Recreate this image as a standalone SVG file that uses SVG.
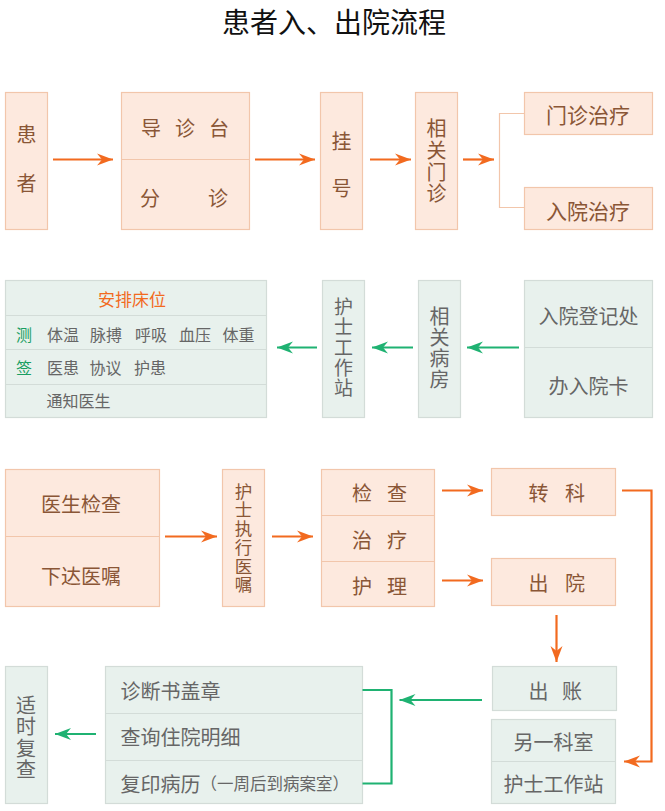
<svg xmlns="http://www.w3.org/2000/svg" width="665" height="811" viewBox="0 0 665 811">
<defs>
<style>
text{font-family:"Noto Sans CJK SC","Noto Sans",sans-serif;dominant-baseline:central;}
.p{fill:#fde9de;stroke:#f2c6ab;stroke-width:1.2;}
.pl{stroke:#f2c6ab;stroke-width:1.2;fill:none;}
.g{fill:#e8f1ed;stroke:#d3dcd8;stroke-width:1.2;}
.gl{stroke:#d3dcd8;stroke-width:1.2;fill:none;}
.tb{fill:#8a5636;font-size:20px;text-anchor:middle;}
.tg{fill:#666666;font-size:20px;text-anchor:middle;}
.v{writing-mode:vertical-rl;text-anchor:middle;}
.ao{stroke:#f26a1f;stroke-width:2.2;fill:none;}
.ag{stroke:#1fb272;stroke-width:2.2;fill:none;}
</style>
<marker id="mo" markerUnits="userSpaceOnUse" markerWidth="18" markerHeight="14" refX="16" refY="7" orient="auto"><path d="M0,1 L16,7 L0,13 L5,7 Z" fill="#f26a1f"/></marker>
<marker id="mg" markerUnits="userSpaceOnUse" markerWidth="18" markerHeight="14" refX="16" refY="7" orient="auto"><path d="M0,1 L16,7 L0,13 L5,7 Z" fill="#1fb272"/></marker>
</defs>
<rect width="665" height="811" fill="#ffffff"/>
<text x="334" y="21" style="font-size:28px;fill:#111;text-anchor:middle;">患者入、出院流程</text>

<g id="patient"><rect class="p" x="5.5" y="92.5" width="42" height="137"/><text class="tb"><tspan x="26.5" y="133">患</tspan><tspan x="26.5" y="182">者</tspan></text></g>
<g id="triage"><rect class="p" x="121.5" y="92.5" width="128" height="137"/><line class="pl" x1="121.5" y1="159.5" x2="249.5" y2="159.5"/><text class="tb"><tspan x="151" y="127">导</tspan><tspan x="185" y="127">诊</tspan><tspan x="219" y="127">台</tspan><tspan x="150" y="197">分</tspan><tspan x="218" y="197">诊</tspan></text></g>
<g id="register"><rect class="p" x="320.5" y="92.5" width="42" height="137"/><text class="tb"><tspan x="341.5" y="140">挂</tspan><tspan x="341.5" y="187">号</tspan></text></g>
<g id="clinic"><rect class="p" x="415.5" y="92.5" width="42" height="137"/><text class="tb v" x="436.5" y="162" style="font-size:20px;letter-spacing:1.7px">相关门诊</text></g>
<g id="outpatient"><rect class="p" x="524.5" y="92.5" width="128" height="42"/><text class="tb" x="588" y="114" style="font-size:21px">门诊治疗</text></g>
<g id="inpatient"><rect class="p" x="524.5" y="187.5" width="128" height="42"/><text class="tb" x="588" y="210" style="font-size:21px">入院治疗</text></g>

<g id="bed"><rect class="g" x="5.5" y="280.5" width="261" height="137"/><line class="gl" x1="5.5" y1="315.5" x2="266.5" y2="315.5"/><line class="gl" x1="5.5" y1="349.5" x2="266.5" y2="349.5"/><line class="gl" x1="5.5" y1="384.5" x2="266.5" y2="384.5"/>
<text x="132" y="298" style="font-size:17px;fill:#f26a1f;text-anchor:middle;">安排床位</text>
<text x="24" y="333.5" style="font-size:16px;fill:#1a9e62;text-anchor:middle;">测</text>
<text y="333.5" style="font-size:16px;fill:#666;text-anchor:middle;"><tspan x="63">体温</tspan><tspan x="106">脉搏</tspan><tspan x="151">呼吸</tspan><tspan x="195">血压</tspan><tspan x="238.5">体重</tspan></text>
<text x="24" y="367" style="font-size:16px;fill:#1a9e62;text-anchor:middle;">签</text>
<text y="367" style="font-size:16px;fill:#666;text-anchor:middle;"><tspan x="63">医患</tspan><tspan x="105.5">协议</tspan><tspan x="150">护患</tspan></text>
<text x="46.5" y="399.5" style="font-size:16px;fill:#666;">通知医生</text></g>
<g id="nurse1"><rect class="g" x="322.5" y="280.5" width="42" height="137"/><text class="tg v" x="343.5" y="348" style="font-size:19px;letter-spacing:1.2px">护士工作站</text></g>
<g id="ward"><rect class="g" x="418.5" y="280.5" width="42" height="137"/><text class="tg v" x="439.5" y="348" style="font-size:20px;letter-spacing:1px">相关病房</text></g>
<g id="admit"><rect class="g" x="524.5" y="280.5" width="128" height="137"/><line class="gl" x1="524.5" y1="347.5" x2="652.5" y2="347.5"/><text class="tg" x="588.5" y="315">入院登记处</text><text class="tg" x="588.5" y="385">办入院卡</text></g>

<g id="doctor"><rect class="p" x="5.5" y="469.5" width="154" height="137"/><line class="pl" x1="5.5" y1="536.5" x2="159.5" y2="536.5"/><text class="tb" x="81" y="503">医生检查</text><text class="tb" x="81" y="575">下达医嘱</text></g>
<g id="nurseexec"><rect class="p" x="222.5" y="469.5" width="42" height="137"/><text class="tb v" x="243.5" y="538.5" style="font-size:17.5px;letter-spacing:1.2px">护士执行医嘱</text></g>
<g id="care"><rect class="p" x="321.5" y="469.5" width="113" height="137"/><line class="pl" x1="321.5" y1="515.5" x2="434.5" y2="515.5"/><line class="pl" x1="321.5" y1="561.5" x2="434.5" y2="561.5"/><text class="tb"><tspan x="362" y="492">检</tspan><tspan x="397" y="492">查</tspan><tspan x="362" y="539">治</tspan><tspan x="397" y="539">疗</tspan><tspan x="362" y="585">护</tspan><tspan x="397" y="585">理</tspan></text></g>
<g id="transfer"><rect class="p" x="491.5" y="468.5" width="124" height="47"/><text class="tb"><tspan x="538.5" y="491.5">转</tspan><tspan x="575" y="491.5">科</tspan></text></g>
<g id="discharge"><rect class="p" x="491.5" y="558.5" width="124" height="47"/><text class="tb"><tspan x="538.5" y="581.5">出</tspan><tspan x="575" y="581.5">院</tspan></text></g>

<g id="revisit"><rect class="g" x="5.5" y="666.5" width="42" height="137"/><text class="tg v" x="26" y="738" style="font-size:20px;letter-spacing:1.3px">适时复查</text></g>
<g id="records"><rect class="g" x="105.5" y="666.5" width="257" height="137"/><line class="gl" x1="105.5" y1="713.5" x2="362.5" y2="713.5"/><line class="gl" x1="105.5" y1="760.5" x2="362.5" y2="760.5"/>
<text x="120.5" y="690" style="font-size:20px;fill:#666;">诊断书盖章</text>
<text x="120.5" y="736.5" style="font-size:20px;fill:#666;">查询住院明细</text>
<text x="120.5" y="783" style="font-size:20px;fill:#666;">复印病历<tspan style="font-size:16.5px">（一周后到病案室）</tspan></text></g>
<g id="billing"><rect class="g" x="492.5" y="666.5" width="124" height="44"/><text class="tg"><tspan x="538.5" y="690">出</tspan><tspan x="572" y="690">账</tspan></text></g>
<g id="otherdept"><rect class="g" x="491.5" y="719.5" width="124" height="84"/><line class="gl" x1="491.5" y1="761.5" x2="615.5" y2="761.5"/><text class="tg" x="553.5" y="741.5">另一科室</text><text class="tg" x="553.5" y="783">护士工作站</text></g>

<g id="connectors">
<line class="ao" x1="53" y1="159.5" x2="113" y2="159.5" marker-end="url(#mo)"/>
<line class="ao" x1="255" y1="159.5" x2="315" y2="159.5" marker-end="url(#mo)"/>
<line class="ao" x1="370" y1="159.5" x2="411" y2="159.5" marker-end="url(#mo)"/>
<line class="ao" x1="463" y1="159.5" x2="494" y2="159.5" marker-end="url(#mo)"/>
<path class="pl" d="M524.5,113.5 H499.5 V207.5 H524.5"/>
<line class="ag" x1="317" y1="347.5" x2="277" y2="347.5" marker-end="url(#mg)"/>
<line class="ag" x1="413" y1="347.5" x2="372" y2="347.5" marker-end="url(#mg)"/>
<line class="ag" x1="519" y1="347.5" x2="467" y2="347.5" marker-end="url(#mg)"/>
<line class="ao" x1="165" y1="536.5" x2="217" y2="536.5" marker-end="url(#mo)"/>
<line class="ao" x1="272" y1="536.5" x2="313" y2="536.5" marker-end="url(#mo)"/>
<line class="ao" x1="442" y1="490.5" x2="483" y2="490.5" marker-end="url(#mo)"/>
<line class="ao" x1="442" y1="580.5" x2="483" y2="580.5" marker-end="url(#mo)"/>
<line class="ao" x1="556.5" y1="615" x2="556.5" y2="662" marker-end="url(#mo)"/>
<path class="ao" d="M622,490.5 H651.5 V761.5 H624" marker-end="url(#mo)"/>
<line class="ag" x1="482" y1="700" x2="399.5" y2="700" marker-end="url(#mg)"/>
<path class="ag" d="M362.5,690 H391.5 V783.5 H362.5"/>
<line class="ag" x1="96" y1="734" x2="55" y2="734" marker-end="url(#mg)"/>
</g>
</svg>
